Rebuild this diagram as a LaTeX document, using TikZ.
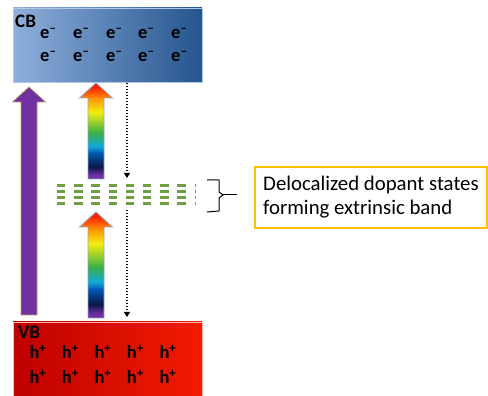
\documentclass[tikz,border=0pt]{standalone}
\usepackage{fontspec}
\setmainfont{Carlito}
\usepackage{tikz}
\usetikzlibrary{arrows.meta,positioning,calc}
\definecolor{cCBl}{HTML}{8EAFDC}
\definecolor{cCBm}{HTML}{3C73B5}
\definecolor{cCBr}{HTML}{25558E}
\definecolor{cVBl}{HTML}{BE0000}
\definecolor{cVBm}{HTML}{FF2C00}
\definecolor{cVBr}{HTML}{F21C00}
\definecolor{cPurple}{HTML}{7030A0}
\definecolor{cTan}{HTML}{B89A62}
\definecolor{cSteel}{HTML}{8EA8C6}
\definecolor{cDop}{HTML}{6E9E46}
\definecolor{cGold}{HTML}{FFC000}
\definecolor{rbRed}{HTML}{FF1E00}
\definecolor{rbOrange}{HTML}{FF9A00}
\definecolor{rbYellow}{HTML}{F4EE10}
\definecolor{rbGreen}{HTML}{3AAE48}
\definecolor{rbCyan}{HTML}{10A8D8}
\definecolor{rbBlue}{HTML}{0058B0}
\definecolor{rbNavy}{HTML}{0A1848}
\definecolor{rbPurple}{HTML}{7030A0}
\pgfdeclareverticalshading{rainbow}{100bp}{color(0bp)=(rbPurple); color(27bp)=(rbPurple);
  color(31.5bp)=(rbNavy); color(38.5bp)=(rbBlue); color(42bp)=(rbCyan); color(49bp)=(rbGreen);
  color(60bp)=(rbYellow); color(66.5bp)=(rbOrange); color(73bp)=(rbRed); color(100bp)=(rbRed)}
\tikzset{
  band/.style={minimum width=189pt, inner sep=0pt, line width=0.8pt},
  cbband/.style={band, minimum height=74pt, left color=cCBl, middle color=cCBm, right color=cCBr, draw=cCBl!70!white},
  vbband/.style={band, minimum height=77pt, left color=cVBl, middle color=cVBm, right color=cVBr, draw=red!30!white},
  bandlbl/.style={font=\fontsize{19}{19}\selectfont\bfseries, inner sep=0pt, anchor=base west},
  carrier/.style={font=\fontsize{18.5}{18.5}\selectfont\bfseries, inner sep=0pt, anchor=base west},
  pumparr/.style={fill=cPurple, draw=cTan, line width=0.7pt},
  rainarr/.style={shading=rainbow, draw=cSteel, line width=0.8pt},
  dotarr/.style={-{Triangle[length=5pt,width=6pt]}, line width=1.3pt, dash pattern=on 1.3pt off 1.7pt, black},
  dopant/.style={cDop, line width=2.4pt, dash pattern=on 8.3pt off 8.9pt},
  notebox/.style={draw=cGold, line width=1.2pt, fill=white, align=left, minimum width=232pt,
                  minimum height=61pt, inner sep=0pt, font=\fontsize{20.8}{24}\selectfont},
  bracelin/.style={black, line width=1pt, line join=round}
}
% block arrow between two named coordinates (bottom, tip)
\newcommand{\uparr}[3]{%
  \path[#1] let \p1=(#2), \p2=(#3) in
    ({\x1-8pt},\y1) -- ({\x1+8pt},\y1) -- ({\x1+8pt},{\y2-15pt}) -- ({\x1+16.5pt},{\y2-15pt})
    -- (\x2,\y2) -- ({\x1-16.5pt},{\y2-15pt}) -- ({\x1-8pt},{\y2-15pt}) -- cycle;}

\begin{document}
\begin{tikzpicture}[x=1pt, y=1pt]
\path[use as bounding box] (0,0) rectangle (488,396);
% bands
\node[cbband] (cb) at (107.5,351) {};
\node[vbband] (vb) at (107.5,35.5) {};
\node[bandlbl] (cblbl) at (15,368.5) {CB};
\node[bandlbl] (vblbl) at (18,57) {VB};
\foreach \xx [count=\i] in {40,73,106,138,171}
  \foreach \yy [count=\j] in {357.7,334.3}
    \node[carrier] (e\j-\i) at (\xx,\yy) {e\textsuperscript{–}};
\foreach \xx [count=\i] in {29.3,61.7,94.3,126.7,159.3}
  \foreach \yy [count=\j] in {37,12.7}
    \node[carrier] (h\j-\i) at (\xx,\yy) {h\textsuperscript{+}};
% excitation arrows
\coordinate (pa-s) at (29,81);  \coordinate (pa-e) at (29,309);
\coordinate (ra-s) at (96,217); \coordinate (ra-e) at (96,313);
\coordinate (rb-s) at (96,78);  \coordinate (rb-e) at (96,184);
\uparr{pumparr}{pa-s}{pa-e}
\uparr{rainarr}{ra-s}{ra-e}
\uparr{rainarr}{rb-s}{rb-e}
% relaxation
\coordinate (da-s) at (127,313); \coordinate (da-e) at (127,218);
\coordinate (db-s) at (127,186); \coordinate (db-e) at (127,79);
\draw[dotarr] (da-s) -- (da-e);
\draw[dotarr] (db-s) -- (db-e);
% dopant band
\foreach \yy in {210.3,204.3,198.3,192.3}
  \draw[dopant] (57,\yy) -- (196,\yy);
% brace + note
\coordinate (br) at (207,216);
\draw[bracelin] (br) -- ++(12,0) -- ++(0,-12) -- ++(4,-3) coordinate (brtip) -- ++(-4,-3) -- ++(0,-13) -- ++(-12,-1);
\draw[bracelin] (brtip) -- ++(14,0);
\node[notebox] (note) at (371,198.5) {Delocalized dopant states\\forming extrinsic band};
\end{tikzpicture}
\end{document}
